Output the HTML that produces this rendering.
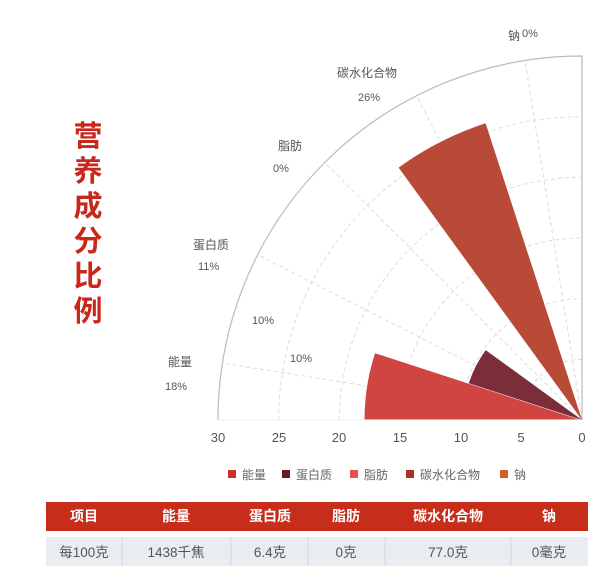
<!DOCTYPE html>
<html><head><meta charset="utf-8"><style>
body{margin:0;background:#fff;width:600px;height:581px;overflow:hidden;font-family:"Liberation Sans","Noto Sans CJK SC",sans-serif;}
</style></head><body>
<svg width="600" height="581" xmlns="http://www.w3.org/2000/svg" style="position:absolute;left:0;top:0">
<g font-family="Liberation Sans, Noto Sans CJK SC, sans-serif">
<!-- title -->
<g fill="#c8281c" font-size="29" font-weight="bold" text-anchor="middle">
<text x="88" y="146">营</text><text x="88" y="181">养</text><text x="88" y="216">成</text>
<text x="88" y="251">分</text><text x="88" y="286">比</text><text x="88" y="321">例</text>
</g>
<!-- grid arcs -->
<g fill="none" stroke="#ddd" stroke-dasharray="4,3" stroke-width="1">
<path d="M521.3,420 A60.7,60.7 0 0 1 582,359.3"/>
<path d="M460.7,420 A121.3,121.3 0 0 1 582,298.7"/>
<path d="M400,420 A182,182 0 0 1 582,238"/>
<path d="M339.3,420 A242.7,242.7 0 0 1 582,177.3"/>
<path d="M278.7,420 A303.3,303.3 0 0 1 582,116.7"/>
<line x1="582" y1="420" x2="222.5" y2="363.1"/>
<line x1="582" y1="420" x2="257.7" y2="254.7"/>
<line x1="582" y1="420" x2="324.6" y2="162.6"/>
<line x1="582" y1="420" x2="416.7" y2="95.7"/>
<line x1="582" y1="420" x2="525.1" y2="60.5"/>
</g>
<path d="M218,420 A364,364 0 0 1 582,56 L582,420" fill="none" stroke="#bbb" stroke-width="1.2"/>
<line x1="218" y1="420" x2="582" y2="420" stroke="#eee"/>
<!-- wedges -->
<path d="M582,420 L364,420 A218,218 0 0 1 374.7,352.6 Z" fill="#d04541" stroke="#fff" stroke-width="1"/>
<path d="M582,420 L468.8,383.2 A119,119 0 0 1 485.7,350.1 Z" fill="#7b2e3a"/>
<path d="M582,420 L398.6,167.6 A312,312 0 0 1 485.6,123.3 Z" fill="#b94a38"/>
<!-- labels -->
<g fill="#555" font-size="11">
<text x="508" y="40" font-size="12">钠</text><text x="522" y="37">0%</text>
<text x="337" y="77" font-size="12">碳水化合物</text><text x="358" y="101">26%</text>
<text x="278" y="150" font-size="12">脂肪</text><text x="273" y="172">0%</text>
<text x="193" y="249" font-size="12">蛋白质</text><text x="198" y="270">11%</text>
<text x="252" y="324">10%</text><text x="290" y="362">10%</text>
<text x="168" y="366" font-size="12">能量</text><text x="165" y="390">18%</text>
</g>
<g fill="#555" font-size="13" text-anchor="middle">
<text x="218" y="442">30</text><text x="279" y="442">25</text><text x="339" y="442">20</text>
<text x="400" y="442">15</text><text x="461" y="442">10</text><text x="521" y="442">5</text><text x="582" y="442">0</text>
</g>
<!-- legend -->
<g font-size="12" fill="#666">
<rect x="228" y="470" width="8" height="8" fill="#c8302a"/><text x="242" y="479">能量</text>
<rect x="282" y="470" width="8" height="8" fill="#6e1a22"/><text x="296" y="479">蛋白质</text>
<rect x="350" y="470" width="8" height="8" fill="#e8534a"/><text x="364" y="479">脂肪</text>
<rect x="406" y="470" width="8" height="8" fill="#a83224"/><text x="420" y="479">碳水化合物</text>
<rect x="500" y="470" width="8" height="8" fill="#c8641e"/><text x="514" y="479">钠</text>
</g>
<!-- table -->
<rect x="46" y="502" width="542" height="29" fill="#c62d1b"/>
<rect x="46" y="537" width="542" height="29" fill="#e9ecf1"/>
<g stroke="#d2d6dd" stroke-width="1">
<line x1="122" y1="537" x2="122" y2="566"/><line x1="231" y1="537" x2="231" y2="566"/>
<line x1="308" y1="537" x2="308" y2="566"/><line x1="385" y1="537" x2="385" y2="566"/>
<line x1="511" y1="537" x2="511" y2="566"/>
</g>
<g fill="#fff" font-size="14" font-weight="bold" text-anchor="middle">
<text x="84" y="521">项目</text><text x="176" y="521">能量</text><text x="270" y="521">蛋白质</text>
<text x="346" y="521">脂肪</text><text x="448" y="521">碳水化合物</text><text x="549" y="521">钠</text>
</g>
<g fill="#555" font-size="13.5" text-anchor="middle">
<text x="84" y="557">每100克</text><text x="176" y="557">1438千焦</text><text x="270" y="557">6.4克</text>
<text x="346" y="557">0克</text><text x="448" y="557">77.0克</text><text x="549" y="557">0毫克</text>
</g>
</g>
</svg>
</body></html>
